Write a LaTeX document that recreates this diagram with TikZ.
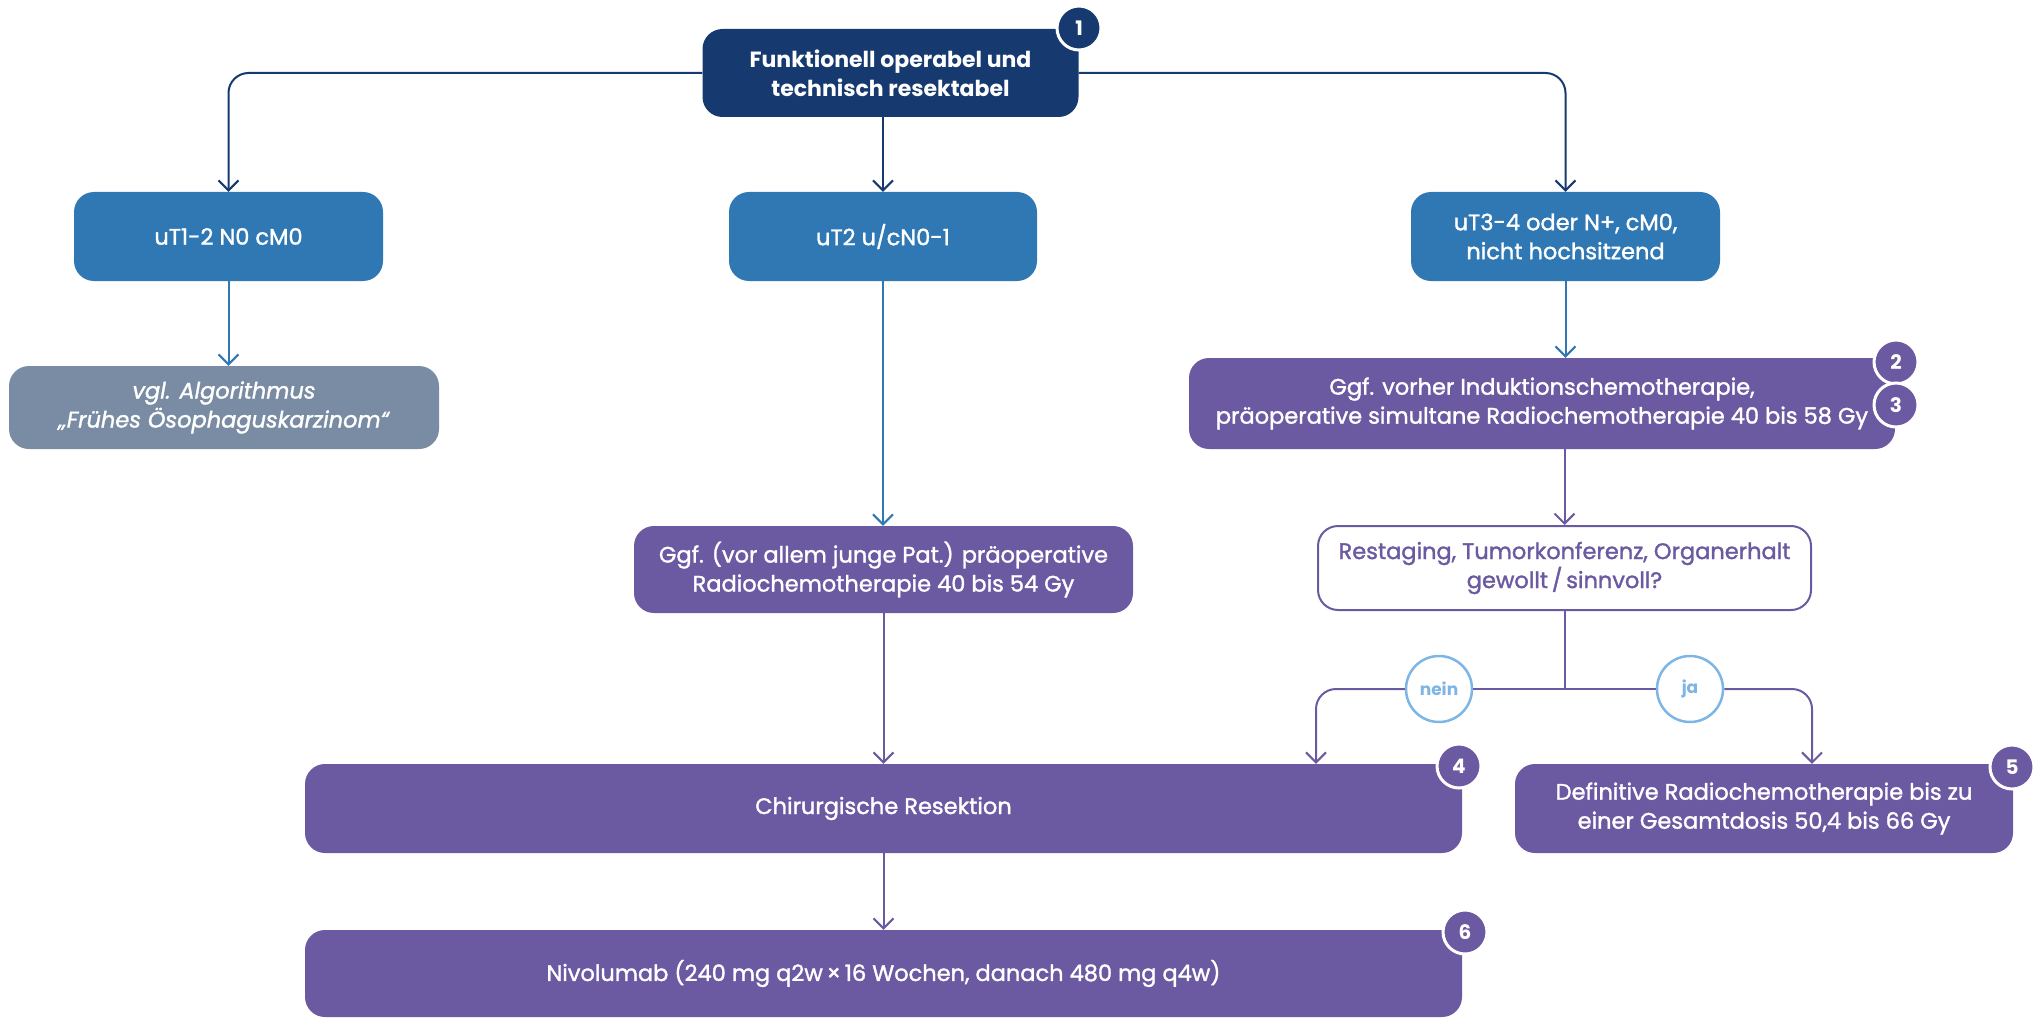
\documentclass[tikz,border=0pt]{standalone}
\usepackage{fontspec}
\setmainfont{Poppins}
\newfontfamily\boxfont[FakeBold=1.4]{Poppins}
\usetikzlibrary{arrows.meta}
\definecolor{navy}{HTML}{163A70}
\definecolor{midblue}{HTML}{2F78B4}
\definecolor{slate}{HTML}{7A8CA3}
\definecolor{violet}{HTML}{6B59A2}
\definecolor{skyblue}{HTML}{7DB6E5}
\begin{document}
\begin{tikzpicture}[x=1pt,y=-1pt,
  box/.style={rounded corners=20pt, text=white, align=center, inner sep=0pt,
    font=\boxfont\fontsize{22.5}{29}\selectfont},
  navybox/.style={box, fill=navy, font=\fontsize{22}{29}\selectfont\bfseries},
  bluebox/.style={box, fill=midblue},
  greybox/.style={box, fill=slate, font=\boxfont\fontsize{22.5}{29}\selectfont\itshape},
  violetbox/.style={box, fill=violet},
  openbox/.style={box, draw=violet, line width=2pt, fill=white, text=violet},
  badge/.style={circle, draw=white, line width=3pt, fill=#1, text=white,
    minimum size=44pt, inner sep=0pt, font=\fontsize{20}{22}\selectfont\bfseries},
  answer/.style={circle, draw=skyblue, line width=2.5pt, fill=white, text=skyblue,
    minimum size=66pt, inner sep=0pt, font=\fontsize{17}{20}\selectfont\bfseries},
  link/.style={line width=2pt, rounded corners=20pt,
    -{Straight Barb[length=10pt,width=20pt,line width=2pt]}},
  navylink/.style={link, draw=navy},
  bluelink/.style={link, draw=midblue},
  violetlink/.style={link, draw=violet},
]
\useasboundingbox (0,0) rectangle (2037,1019);

% boxes
\node[navybox, minimum width=376pt, minimum height=88pt] (top) at (890.5,73)
  {Funktionell operabel und\\technisch resektabel};
\node[bluebox, minimum width=309pt, minimum height=89pt] (t1) at (228.5,236.5) {uT1-2 N0 cM0};
\node[bluebox, minimum width=308pt, minimum height=89pt] (t2) at (883,236.5) {uT2 u/cN0-1};
\node[bluebox, minimum width=309pt, minimum height=89pt] (t3) at (1565.5,236.5)
  {uT3-4 oder N+, cM0,\\nicht hochsitzend};
\node[greybox, minimum width=430pt, minimum height=83pt] (grey) at (224,407.5)
  {vgl. Algorithmus\\„Frühes Ösophaguskarzinom“};
\node[violetbox, minimum width=706pt, minimum height=91pt] (ind) at (1542,403.5)
  {Ggf. vorher Induktionschemotherapie,\\präoperative simultane Radiochemotherapie 40 bis 58 Gy};
\node[violetbox, minimum width=499pt, minimum height=87pt] (pre) at (883.5,569.5)
  {Ggf. (vor allem junge Pat.) präoperative\\Radiochemotherapie 40 bis 54 Gy};
\node[openbox, minimum width=493pt, minimum height=84pt] (rest) at (1564.5,568)
  {Restaging, Tumorkonferenz, Organerhalt\\gewollt\,/\,sinnvoll?};
\node[violetbox, minimum width=1157pt, minimum height=89pt] (chir) at (883.5,808.5)
  {Chirurgische Resektion};
\node[violetbox, minimum width=498pt, minimum height=89pt] (defi) at (1764,808.5)
  {Definitive Radiochemotherapie bis zu\\einer Gesamtdosis 50,4 bis 66 Gy};
\node[violetbox, minimum width=1157pt, minimum height=87pt] (nivo) at (883.5,973.5)
  {Nivolumab (240 mg q2w\,×\,16 Wochen, danach 480 mg q4w)};

% connectors from the entry box
\draw[navylink] (top.west) -| (t1.north);
\draw[navylink] (top.east) -| (t3.north);
\draw[navylink] (t2.north |- top.south) -- (t2.north);

\draw[bluelink] (t1.south) -- (t1.south |- grey.north);
\draw[bluelink] (t2.south) -- (pre.north -| t2.south);
\draw[bluelink] (t3.south) -- (t3.south |- ind.north);

\draw[violetlink] (ind.south -| rest.north) -- (rest.north);
\draw[violetlink] (pre.south -| chir.north) -- (chir.north);
\draw[violetlink] (chir.south) -- (nivo.north);

% decision split
\coordinate (split) at (1564.5,689);
\node[answer] (nein) at (1439,689) {nein};
\node[answer] (ja) at (1690,689) {ja};
\draw[line width=2pt, violet] (rest.south) -- (split);
\draw[line width=2pt, violet] (nein.east) -- (ja.west);
\draw[violetlink] (nein.west) -| ([xshift=432.5pt]chir.north);
\draw[violetlink] (ja.east) -| ([xshift=48pt]defi.north);

% numbered badges
\node[badge=navy] (b1) at (1079,28) {1};
\node[badge=violet] (b2) at (1896,362) {2};
\node[badge=violet] (b3) at (1896,405) {3};
\node[badge=violet] (b4) at (1459,766) {4};
\node[badge=violet] (b5) at (2012,767) {5};
\node[badge=violet] (b6) at (1465,932) {6};
\end{tikzpicture}
\end{document}
